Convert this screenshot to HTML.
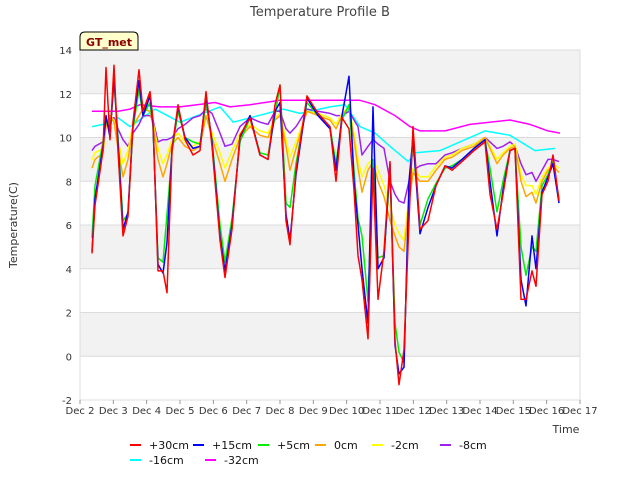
<!DOCTYPE html>
<html><head><meta charset="utf-8"><style>
body{margin:0;background:#fff;font-family:"Liberation Sans","DejaVu Sans",sans-serif}
svg text{font-family:"DejaVu Sans","Liberation Sans",sans-serif}
</style></head><body>
<svg id="c" width="640" height="480">
<text x="320" y="16" text-anchor="middle" font-size="13" fill="#444">Temperature Profile B</text>
<text transform="translate(17,225) rotate(-90)" text-anchor="middle" font-size="11" fill="#333">Temperature(C)</text>
<text x="566" y="433" text-anchor="middle" font-size="11" fill="#333">Time</text>
<g id="bands"></g><g id="grid"></g><g id="ticks"></g><g id="lines"></g>
<g>
<path d="M80,50 L80,37 Q80,32 85,32 L133,32 Q138,32 138,37 L138,50 Z" fill="#ffffcc" stroke="#000" stroke-width="1"/>
<text x="109" y="46" text-anchor="middle" font-size="11" font-weight="bold" fill="#8b0000">GT_met</text>
</g>
<g id="legend"></g>
</svg>
<script>
const ns="http://www.w3.org/2000/svg";
const X0=80,X1=580,Y0=50,Y1=400,D0=0,D1=15,V0=-2,V1=14;
const xs=d=>X0+(d-D0)/(D1-D0)*(X1-X0);
const ys=v=>Y1-(v-V0)/(V1-V0)*(Y1-Y0);
const xTickLabels=["Dec 2","Dec 3","Dec 4","Dec 5","Dec 6","Dec 7","Dec 8","Dec 9","Dec 10","Dec 11","Dec 12","Dec 13","Dec 14","Dec 15","Dec 16","Dec 17"];
const yTicks=[-2,0,2,4,6,8,10,12,14];
const seriesNames=["+30cm","+15cm","+5cm","0cm","-2cm","-8cm","-16cm","-32cm"];
const seriesColors=["#ff0000","#0000ff","#00ee00","#ffa500","#ffff00","#a020f0","#00ffff","#ff00ff"];
const t=[0.36,0.45,0.69,0.78,0.9,1.02,1.14,1.29,1.44,1.59,1.77,1.89,2.1,2.19,2.34,2.49,2.61,2.76,2.94,3.15,3.39,3.6,3.78,3.96,4.2,4.35,4.56,4.8,5.1,5.4,5.64,5.85,6.0,6.18,6.3,6.48,6.81,7.14,7.5,7.68,7.86,8.07,8.22,8.34,8.46,8.64,8.79,8.94,9.12,9.3,9.45,9.57,9.72,9.87,9.99,10.2,10.44,10.68,10.95,11.16,11.46,11.82,12.15,12.3,12.51,12.69,12.9,13.05,13.23,13.38,13.56,13.68,13.86,14.04,14.19,14.37];
const s30=[4.7,6.9,9.4,13.2,9.9,13.3,9.4,5.5,6.4,10.7,13.1,11.2,12.1,10.8,3.9,3.9,2.9,9.4,11.5,9.9,9.2,9.4,12.1,9.6,5.3,3.6,5.8,10.1,10.9,9.2,9.0,11.5,12.4,6.2,5.1,8.5,11.9,11.1,10.5,8.0,10.9,10.4,7.6,4.6,3.5,0.8,8.6,2.6,4.8,8.9,0.7,-1.3,0.3,6.2,10.5,5.8,6.2,7.8,8.7,8.5,8.9,9.4,9.8,7.4,5.8,7.4,9.4,9.5,2.6,2.6,3.9,3.2,7.4,8.0,9.2,7.1];
const s15=[4.8,7.2,9.6,11.0,10.0,12.8,9.8,5.8,6.6,10.6,12.6,11.0,11.9,10.6,4.2,3.8,5.2,9.5,11.4,10.0,9.5,9.6,11.9,9.8,5.5,3.9,6.0,10.0,11.0,9.2,9.0,11.2,11.6,6.5,5.3,8.3,11.8,11.0,10.4,8.5,11.0,12.8,8.0,6.0,4.0,1.5,11.4,4.0,4.5,8.8,0.5,-0.8,-0.5,8.0,10.0,5.6,6.8,7.8,8.7,8.6,9.0,9.5,9.9,8.0,5.5,7.6,9.4,9.5,3.5,2.3,5.5,4.0,7.5,8.2,8.8,7.0];
const s5=[5.4,7.8,9.8,10.8,10.2,12.5,10.0,6.2,6.5,10.4,12.2,11.0,11.6,10.5,4.5,4.3,6.5,9.3,11.2,10.0,9.8,9.7,11.6,9.9,6.0,4.3,6.3,9.8,10.9,9.3,9.2,11.0,12.4,7.0,6.8,8.8,11.6,11.0,10.5,8.8,10.8,11.5,8.5,6.3,5.5,2.5,9.0,4.5,4.6,8.5,1.5,0.2,-0.3,7.5,9.8,6.0,7.2,7.9,8.6,8.7,9.0,9.5,9.9,8.6,6.6,8.0,9.4,9.5,5.0,3.7,5.0,4.8,7.8,8.3,8.9,7.2];
const s0=[8.6,9.0,9.3,10.5,11.0,10.7,9.5,8.2,9.0,10.5,11.0,11.3,11.2,10.6,9.0,8.2,8.8,9.7,10.0,9.6,9.4,9.6,11.0,10.0,8.8,8.0,9.0,10.0,10.5,10.1,10.0,10.8,11.0,9.6,8.5,9.5,11.2,11.0,10.8,10.4,11.0,11.4,9.9,8.6,7.5,8.5,8.9,8.0,7.3,6.2,5.5,5.0,4.8,7.0,8.4,8.0,8.0,8.5,9.0,9.1,9.4,9.6,10.0,9.5,8.8,9.2,9.5,9.6,8.0,7.3,7.5,7.0,8.0,8.5,8.7,8.4];
const sm2=[9.0,9.3,9.5,10.6,11.0,10.8,9.9,8.8,9.4,10.6,11.0,11.3,11.2,10.7,9.5,8.8,9.2,9.9,10.2,9.8,9.6,9.8,11.0,10.2,9.3,8.6,9.4,10.2,10.6,10.3,10.2,10.9,11.1,9.9,9.1,9.8,11.2,11.1,10.9,10.6,11.1,11.4,10.2,9.0,8.2,8.8,9.0,8.5,7.8,6.8,6.0,5.6,5.3,7.3,8.6,8.2,8.2,8.7,9.1,9.2,9.5,9.7,10.0,9.6,9.0,9.3,9.6,9.7,8.3,7.8,7.8,7.4,8.2,8.6,8.8,8.6];
const sm8=[9.4,9.6,9.8,10.6,10.9,10.9,10.4,9.9,9.6,10.2,10.6,11.0,11.0,10.8,9.8,9.9,9.9,10.0,10.4,10.6,10.9,11.0,11.3,11.1,10.2,9.6,9.7,10.5,10.9,10.7,10.6,11.2,11.2,10.4,10.2,10.5,11.3,11.2,11.1,11.0,11.0,11.2,10.8,10.5,9.2,9.6,9.9,9.7,9.5,8.0,7.4,7.1,7.0,8.0,8.5,8.7,8.8,8.8,9.2,9.3,9.5,9.7,10.0,9.8,9.5,9.6,9.8,9.6,8.8,8.3,8.4,8.0,8.5,9.0,9.0,8.9];
const t16=[0.36,0.7,1.14,1.5,2.25,3.0,4.2,4.6,5.1,6.1,6.6,7.5,7.95,8.4,8.85,9.3,9.85,10.05,10.8,11.1,12.15,12.9,13.65,14.25];
const s16=[10.5,10.6,10.9,10.5,11.3,10.7,11.4,10.7,10.9,11.3,11.1,11.4,11.5,10.5,10.2,9.6,8.9,9.3,9.4,9.6,10.3,10.1,9.4,9.5];
const t32=[0.36,1.14,1.5,1.8,2.4,3.0,4.05,4.5,5.1,6.0,6.6,8.4,8.85,9.45,9.9,10.2,10.95,11.7,12.9,13.5,14.04,14.4];
const s32=[11.2,11.2,11.3,11.5,11.4,11.4,11.6,11.4,11.5,11.7,11.7,11.7,11.5,11.0,10.5,10.3,10.3,10.6,10.8,10.6,10.3,10.2];
const seriesT=[t,t,t,t,t,t,t16,t32];
const seriesV=[s30,s15,s5,s0,sm2,sm8,s16,s32];
function mk(tag,attrs,parent){const e=document.createElementNS(ns,tag);for(const k in attrs)e.setAttribute(k,attrs[k]);parent.appendChild(e);return e;}
const bands=document.getElementById('bands'),grid=document.getElementById('grid'),ticks=document.getElementById('ticks'),lines=document.getElementById('lines'),legend=document.getElementById('legend');
mk('rect',{x:X0,y:Y0,width:X1-X0,height:Y1-Y0,fill:'#fff'},bands);
[[12,14],[8,10],[4,6],[0,2]].forEach(b=>{const r=mk('rect',{x:X0,y:ys(b[1]),width:X1-X0,height:ys(b[0])-ys(b[1]),fill:'#f2f2f2'},bands);

});
yTicks.forEach(v=>{const l=mk('line',{x1:X0,x2:X1,y1:ys(v),y2:ys(v),stroke:'#dcdcdc','stroke-width':1},grid);


const tx=mk('text',{x:72,y:ys(v)+4,'text-anchor':'end','font-size':10,fill:'#333'},ticks);tx.textContent=v;

});
mk('rect',{x:X0,y:Y0,width:X1-X0,height:Y1-Y0,fill:'none',stroke:'#dcdcdc'},grid);
xTickLabels.forEach((s,i)=>{const tx=mk('text',{x:xs(i),y:414,'text-anchor':'middle','font-size':10,fill:'#333'},ticks);tx.textContent=s;


mk('line',{x1:xs(i),x2:xs(i),y1:Y1,y2:Y1+4,stroke:'#999'},ticks);});
for(let k=seriesV.length-1;k>=0;k--){const T=seriesT[k],V=seriesV[k];
const p=mk('polyline',{points:V.map((v,i)=>xs(T[i]).toFixed(1)+','+ys(v).toFixed(1)).join(' '),fill:'none',stroke:seriesColors[k],'stroke-width':1.5,'stroke-linejoin':'round'},lines);

}
const legPos=[[130,445],[193,445],[258,445],[315,445],[372,445],[440,445],[130,460],[205,460]];
seriesNames.forEach((n,k)=>{const g=mk('g',{},legend);


const [x,y]=legPos[k];mk('line',{x1:x,x2:x+11,y1:y,y2:y,stroke:seriesColors[k],'stroke-width':2},g);
const tx=mk('text',{x:x+19,y:y+4,'font-size':11,fill:'#111'},g);tx.textContent=n;});
</script>
</body></html>
